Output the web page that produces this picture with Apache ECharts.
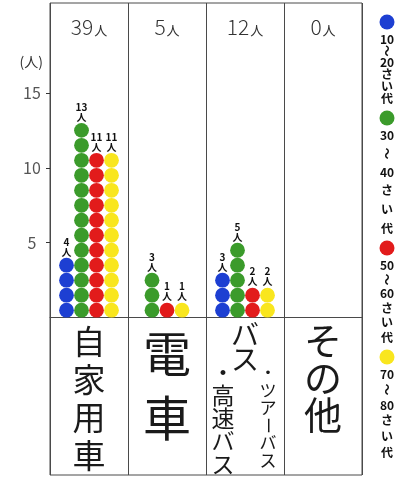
<!DOCTYPE html>
<html><head><meta charset="utf-8">
<script src="https://cdn.jsdelivr.net/npm/echarts@6/dist/echarts.min.js"></script>
<style>html,body{margin:0;padding:0;background:#fff}#c{width:406px;height:483px}</style>
</head><body><div id="c"></div>
<script>
// ---- data ----
const categories = ['自家用車', '電車', 'バス・ツアーバス・高速バス', 'その他'];
const totalLabels = ['39人', '5人', '12人', '0人'];
const ageGroups = ['10〜20さい代', '30〜40さい代', '50〜60さい代', '70〜80さい代'];
const age10to20 = [4, 0, 3, 0];
const age30to40 = [13, 3, 5, 0];
const age50to60 = [11, 1, 2, 0];
const age70to80 = [11, 1, 2, 0];
const yTicks = [5, 10, 15];
const yAxisName = '(人)';

const seriesValues = [age10to20, age30to40, age50to60, age70to80];
const colors = ['#1d3fd2', '#3b9b2b', '#e21b1b', '#f9e61e'];
const FONT = '"Noto Sans CJK JP", "Noto Sans", sans-serif';
const DOT_STEP = 15;

// horizontal offsets: non-empty groups in a category are centred side by side
const offsets = seriesValues.map(() => []);
categories.forEach((c, ci) => {
  const present = seriesValues.map((v, s) => s).filter(s => seriesValues[s][ci] > 0);
  present.forEach((s, i) => { offsets[s][ci] = (i - (present.length - 1) / 2) * DOT_STEP; });
});

const chart = echarts.init(document.getElementById('c'), null, {renderer: 'canvas'});

function bottomFmt(value, idx) {
  if (idx === 2) {
    const main = value.split('・')[0];
    return main.split('').map(ch => '{e|' + ch + '}').join('\n');
  }
  const st = ['a', 'b', 'e', 'c'][idx];
  return value.split('').map(ch => '{' + st + '|' + ch + '}').join('\n');
}

chart.setOption({
  backgroundColor: '#ffffff',
  animation: false,
  grid: {left: 50, right: 44, top: 3, bottom: 8, show: true, borderColor: '#4a4a4a', borderWidth: 1,
    containLabel: false, outerBoundsMode: 'none'},
  xAxis: [{
    type: 'category', data: categories, position: 'bottom',
    axisLine: {onZero: true, lineStyle: {color: '#4a4a4a', width: 1}},
    axisTick: {show: false},
    splitLine: {show: true, interval: 0, lineStyle: {color: '#4a4a4a', width: 1}},
    axisLabel: {
      interval: 0, margin: -153, formatter: bottomFmt, color: '#1a1a1a', verticalAlign: 'top',
      rich: {
        a: {fontSize: 33, lineHeight: 38, fontFamily: FONT, color: '#1a1a1a'},
        b: {fontSize: 48, lineHeight: 64, fontFamily: FONT, color: '#1a1a1a'},
        c: {fontSize: 38, lineHeight: 37, fontFamily: FONT, color: '#1a1a1a'},
        e: {fontSize: 28, lineHeight: 25, fontFamily: FONT, color: '#1a1a1a'}
      }
    }
  }, {
    type: 'category', data: totalLabels, position: 'top',
    axisLine: {show: false}, axisTick: {show: false}, splitLine: {show: false},
    axisLabel: {
      inside: true, interval: 0, margin: 14,
      formatter: v => '{d|' + v.replace('人', '') + '}{p|人}',
      rich: {
        d: {fontSize: 21, fontFamily: FONT, color: '#333', fontWeight: 300},
        p: {fontSize: 13, fontFamily: FONT, color: '#333', padding: [6, 0, 0, 1]}
      }
    }
  }],
  yAxis: {
    type: 'value', min: -10.5, max: 21,
    name: yAxisName, nameLocation: 'end', nameGap: -66,
    nameTextStyle: {align: 'right', padding: [0, 7, 0, 0], fontSize: 14, color: '#333', fontFamily: FONT},
    axisLine: {show: false},
    splitLine: {show: false},
    axisTick: {show: true, customValues: yTicks, length: 4, lineStyle: {color: '#333'}},
    axisLabel: {customValues: yTicks, margin: 18, align: 'center', fontSize: 16, color: '#555', fontFamily: FONT}
  },
  series: seriesValues.map((vals, s) => ({
    type: 'custom', name: ageGroups[s], xAxisIndex: 0, yAxisIndex: 0,
    data: vals.map((v, ci) => [ci, v]),
    encode: {x: 0, y: 1},
    renderItem(params, api) {
      const ci = api.value(0), n = api.value(1);
      if (!n) return null;
      const base = api.coord([ci, 0]);
      const unit = api.size([0, 1])[1];
      const cx = base[0] + offsets[s][ci];
      const children = [];
      for (let k = 0; k < n; k++) {
        children.push({type: 'circle', shape: {cx: cx, cy: base[1] - (k + 0.5) * unit, r: 7.4},
          style: {fill: colors[s]}});
      }
      children.push({type: 'text', style: {
        text: n + '\n人', x: cx, y: base[1] - n * unit - 1, align: 'center', verticalAlign: 'bottom',
        font: 'bold 10px ' + FONT, lineHeight: 10, fill: '#111'}});
      return {type: 'group', children: children};
    }
  }))
});

// ---- hand-made vertical legend and bus sub-labels ----
function tokenize(str) {
  const out = [];
  for (const ch of str) {
    if (/[0-9]/.test(ch) && out.length && /^[0-9]+$/.test(out[out.length - 1])) out[out.length - 1] += ch;
    else out.push(ch);
  }
  return out;
}
function vText(tokens, x, ys, font, color) {
  return tokens.map((t, i) => ({
    type: 'text', x: x, y: ys[i],
    rotation: (t === '〜' || t === 'ー') ? -Math.PI / 2 : 0,
    style: {text: t, x: 0, y: 0, align: 'center', verticalAlign: 'middle', font: font, fill: color}
  }));
}
const graphic = [];
const dotYs = [22, 118, 248, 357];
const legendX = 387;
ageGroups.forEach((name, i) => {
  graphic.push({type: 'circle', shape: {cx: legendX, cy: dotYs[i], r: 7.5}, style: {fill: colors[i]}});
  const toks = tokenize(name);
  const y0 = dotYs[i] + 17;
  const y1 = (i < dotYs.length - 1 ? dotYs[i + 1] : 472) - 20;
  const step = (y1 - y0) / (toks.length - 1);
  graphic.push(...vText(toks, legendX, toks.map((t, k) => y0 + k * step), 'bold 12px ' + FONT, '#111'));
});
const busParts = categories[2].split('・');
let busPix = chart.convertToPixel({xAxisIndex: 0}, 2);
const busX = Array.isArray(busPix) ? busPix[0] : busPix;
const rightTok = ['・'].concat(busParts[1].split(''));
const leftTok = ['・'].concat(busParts[2].split(''));
graphic.push(...vText(rightTok, busX + 23, rightTok.map((t, k) => 373 + k * 17.5), '17px ' + FONT, '#1a1a1a'));
graphic.push(...vText(leftTok, busX - 22, leftTok.map((t, k) => 372 + k * 23), '23px ' + FONT, '#1a1a1a'));
chart.setOption({graphic: graphic});
</script>
</body></html>
